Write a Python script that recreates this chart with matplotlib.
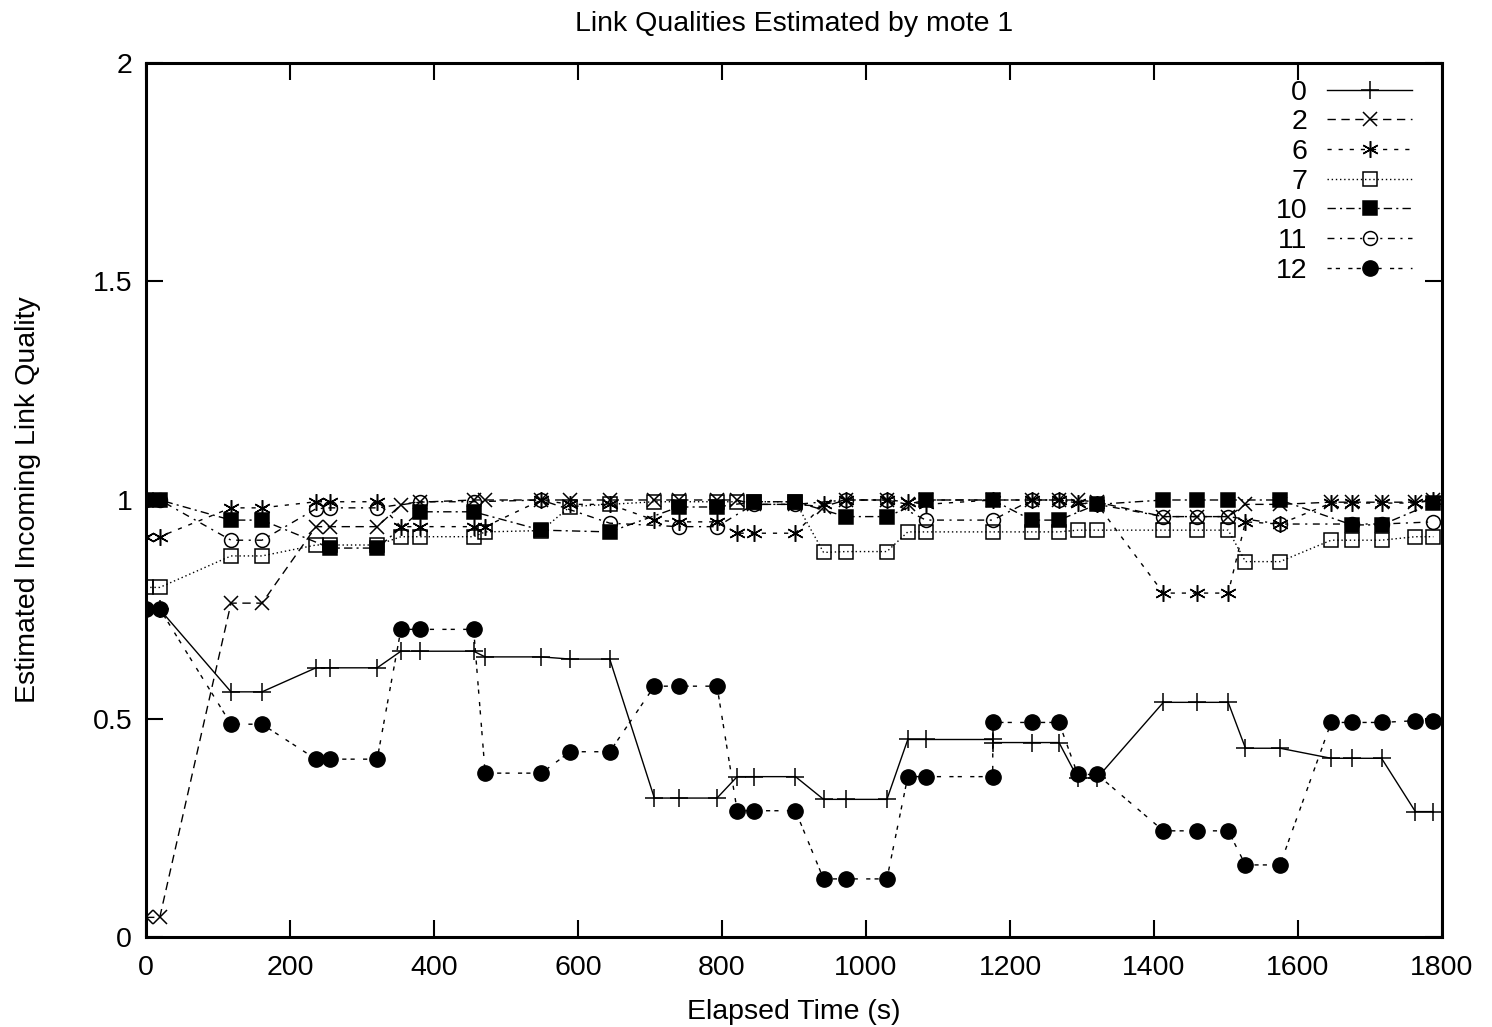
import matplotlib
matplotlib.use("Agg")
import matplotlib.pyplot as plt

# ----------------------------
# Data (time in s, link quality)
# ----------------------------
t_main = [0, 19, 118, 161, 236, 256, 321, 354, 380, 455, 471, 549, 589, 644,
          706, 740, 793, 821, 844, 902, 941, 972, 1029, 1058, 1083, 1176,
          1230, 1268, 1294, 1321, 1413, 1460, 1503, 1527, 1575, 1646, 1675,
          1716, 1763, 1788]
# motes 0 and 12 have a double sample at ~1176 s
t_dup = t_main[:26] + [1176] + t_main[26:]

q0 = [.75, .75, .561, .561, .616, .616, .616, .654, .654, .654, .641, .641,
      .636, .636, .318, .318, .318, .367, .367, .367, .315, .315, .315, .452,
      .452, .452, .445, .445, .445, .364, .364, .537, .537, .537, .432, .432,
      .409, .409, .409, .287, .287]
q2 = [.045, .045, .764, .764, .939, .939, .939, .989, .995, 1.0, 1.0, 1.0,
      1.0, 1.0, 1.0, 1.0, 1.0, 1.0, .99, .99, .985, 1.0, 1.0, .99, 1.0, 1.0,
      1.0, 1.0, 1.0, .995, .962, .962, .962, .99, .99, .995, .995, .995,
      .995, 1.0]
q6 = [.916, .916, .982, .982, .996, .996, .996, .939, .939, .939, .939, 1.0,
      .99, .99, .954, .95, .95, .924, .924, .924, .99, 1.0, 1.0, .996, .99,
      1.0, 1.0, 1.0, .993, .99, .787, .787, .787, .95, .945, .993, .993,
      .993, .993, 1.0]
q7 = [.80, .80, .872, .872, .897, .897, .897, .916, .916, .916, .927, .93,
      .985, .99, .996, .996, .996, .996, .996, .996, .88, .882, .882, .927,
      .927, .927, .927, .927, .931, .931, .931, .931, .931, .859, .859, .908,
      .908, .908, .916, .916]
t10 = [0, 19, 118, 161, 256, 321, 380, 455, 549, 644, 740, 793, 844, 902,
       972, 1029, 1083, 1176, 1230, 1268, 1321, 1413, 1460, 1503, 1575, 1675,
       1716, 1788]
q10 = [1.0, 1.0, .954, .954, .89, .89, .973, .973, .931, .927, .984, .984,
       .996, .996, .962, .962, 1.0, 1.0, .954, .954, .99, 1.0, 1.0, 1.0, 1.0,
       .943, .943, .993]
t11 = [0, 19, 118, 161, 236, 256, 321, 380, 455, 549, 644, 740, 793, 844,
       902, 972, 1029, 1083, 1176, 1230, 1268, 1321, 1413, 1460, 1503, 1575,
       1675, 1716, 1788]
q11 = [1.0, 1.0, .908, .908, .98, .982, .982, .996, .996, 1.0, .947, .939,
       .939, .99, .99, 1.0, 1.0, .954, .954, 1.0, 1.0, .99, .962, .962, .962,
       .945, .945, .945, .95]
q12 = [.751, .751, .487, .487, .407, .407, .407, .704, .704, .704, .375, .375,
       .424, .424, .574, .574, .574, .289, .289, .289, .133, .133, .133, .367,
       .367, .367, .491, .491, .491, .372, .372, .243, .243, .243, .165, .165,
       .491, .491, .491, .495, .495]

x_ticks = [0, 200, 400, 600, 800, 1000, 1200, 1400, 1600, 1800]
y_ticks = [0, 0.5, 1, 1.5, 2]
y_tick_labels = ["0", "0.5", "1", "1.5", "2"]

# ----------------------------
# Style (gnuplot monochrome look)
# ----------------------------
plt.rcParams['font.family'] = ['Liberation Sans', 'DejaVu Sans']
FS = 20.5

# open markers are hollow in gnuplot, so mfc='none'
series = [
    ("0",  t_dup, q0,  dict(marker='+', ms=13, mew=1.1, linestyle='-')),
    ("2",  t_main, q2, dict(marker='x', ms=10, mew=1.1, linestyle=(0, (6, 4)))),
    ("6",  t_main, q6, dict(marker=(6, 2, 0), ms=12, mew=1.1, linestyle=(0, (3, 5)))),
    ("7",  t_main, q7, dict(marker='s', ms=10, mew=1.1, mfc='none', linestyle=(0, (1, 2)))),
    ("10", t10, q10,   dict(marker='s', ms=10, mew=1.1, linestyle=(0, (6, 3, 1.5, 3)))),
    ("11", t11, q11,   dict(marker='o', ms=10, mew=1.1, mfc='none', linestyle=(0, (5, 4, 1.5, 4)))),
    ("12", t_dup, q12, dict(marker='o', ms=11, linestyle=(0, (3, 3, 3, 6)))),
]

fig = plt.figure(figsize=(14.92, 10.27), dpi=100)
ax = fig.add_axes([0.0979, 0.0876, 0.8686, 0.8511])

for label, t, q, st in series:
    ax.plot(t, q, color='black', lw=1.0, label=label, **st)

ax.set_xlim(0, 1800)
ax.set_ylim(0, 2)
ax.set_xticks(x_ticks)
ax.set_yticks(y_ticks)
ax.set_yticklabels(y_tick_labels)
ax.tick_params(direction='in', length=12, width=1.5, labelsize=FS,
               top=True, right=True)
ax.tick_params(axis='x', pad=13)
ax.tick_params(axis='y', pad=10)
for sp in ax.spines.values():
    sp.set_linewidth(2.2)

ax.set_title("Link Qualities Estimated by mote 1", fontsize=FS, pad=23)
ax.set_xlabel("Elapsed Time (s)", fontsize=FS, labelpad=13)
ax.set_ylabel("Estimated Incoming Link Quality", fontsize=FS, labelpad=37)

leg = ax.legend(loc='upper right', bbox_to_anchor=(0.986, 0.994),
                frameon=False, markerfirst=False, fontsize=FS,
                handlelength=3.0, handletextpad=0.7, labelspacing=0.13,
                borderaxespad=0.0)

fig.savefig("out.png", dpi=100)
